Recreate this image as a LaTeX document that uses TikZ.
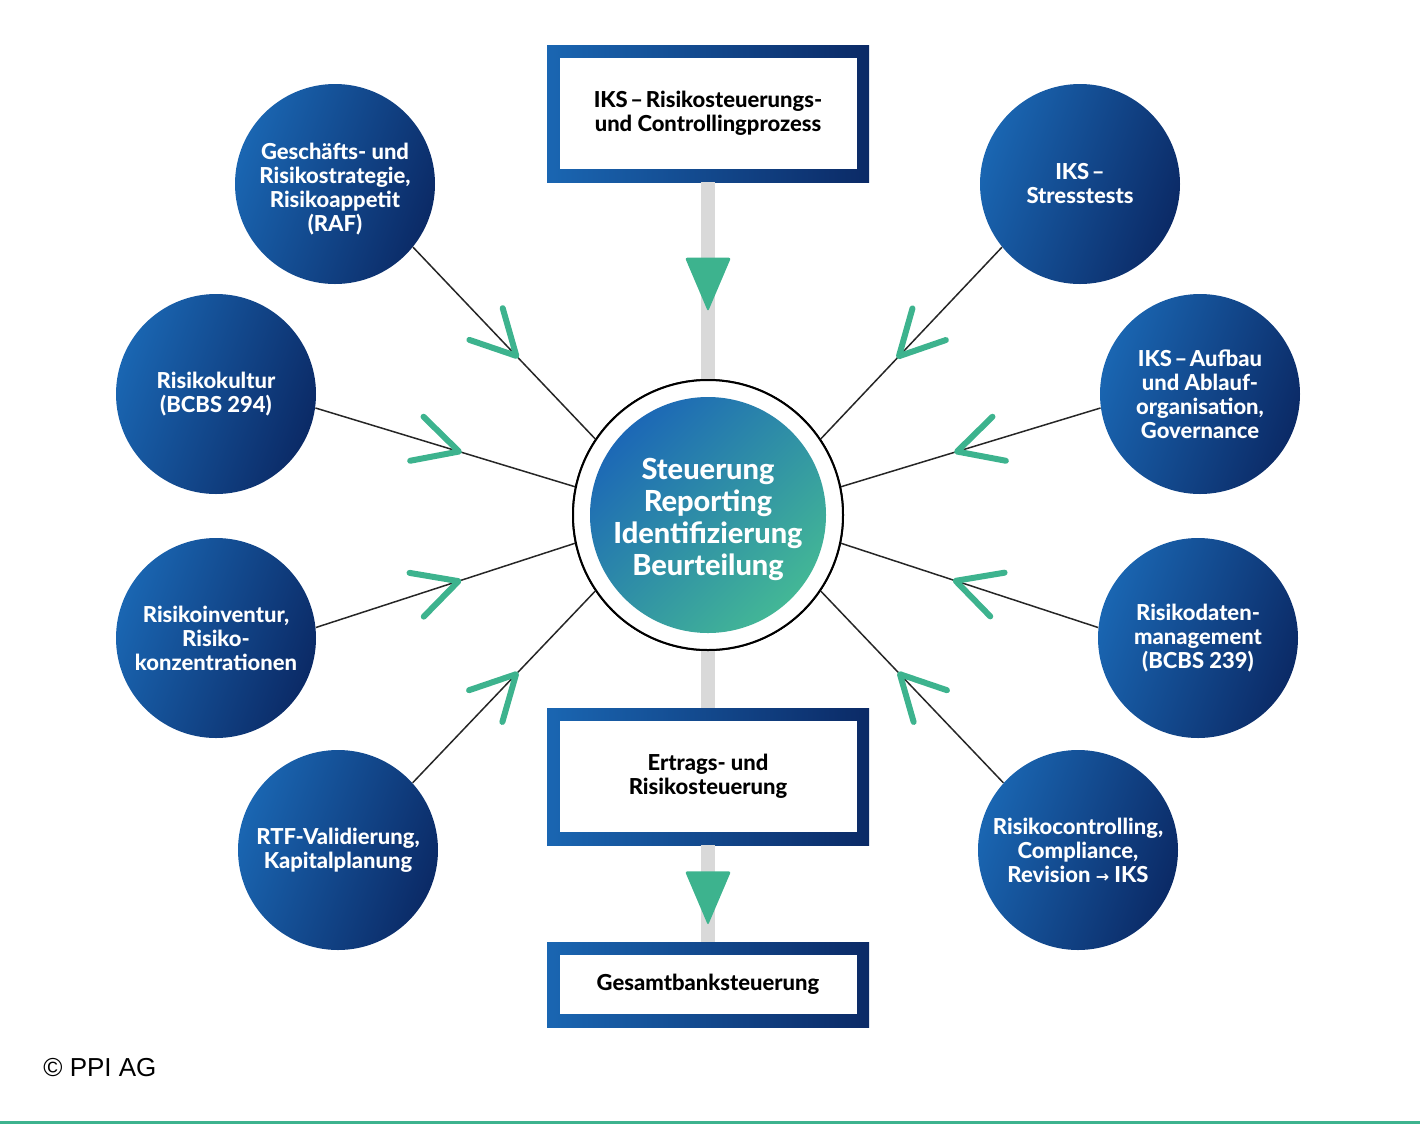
\documentclass[tikz,border=0pt]{standalone}
\usepackage{fontspec}
\setmainfont{Lato}[BoldFont={* Heavy}]
\newfontfamily\copyfont{Liberation Sans}
\newfontfamily\symfont{DejaVu Sans}
\usetikzlibrary{calc,decorations.markings}
\definecolor{cblue}{HTML}{1A66B2}
\definecolor{cnavy}{HTML}{0B2A66}
\definecolor{cgreen}{HTML}{3DB38E}
\definecolor{cgray}{HTML}{D9D9D9}
\definecolor{ctl}{HTML}{1C68B6}
\definecolor{cbr}{HTML}{43B796}
\newcommand{\dsh}{\hspace{0.12em}–\hspace{0.12em}}
\begin{document}
\begin{tikzpicture}[x=0.5pt,y=-0.5pt,
  topic/.style={circle, minimum size=100pt, inner sep=0pt,
    top color=cblue, bottom color=cnavy, shading angle=70,
    text=white, align=center,
    font=\bfseries\fontsize{11}{12}\selectfont},
  outerbox/.style={rectangle, minimum width=161pt, inner sep=0pt,
    left color=cblue, right color=cnavy},
  innerbox/.style={rectangle, fill=white, minimum width=148.5pt, inner sep=0pt,
    align=center, text=black, font=\bfseries\fontsize{11}{11.8}\selectfont},
  graybar/.style={draw=cgray, line width=7pt},
  tri/.style={fill=cgreen, rounded corners=1.2pt},
  chev/.style={draw=cgreen, line width=3pt, line cap=round, line join=round},
  conn/.style={draw=black!85, line width=0.75pt, postaction={decorate},
    decoration={markings, mark=at position 75pt with
      {\draw[chev] (-44,-23) -- (0,0) -- (-44,23);}}}
]
\useasboundingbox (0,0) rectangle (1420,1126);

% boxes
\node[outerbox, minimum height=68.5pt] (b1) at (708,113.5) {};
\node[outerbox, minimum height=68.5pt] (b2) at (708,776.5) {};
\node[outerbox, minimum height=42.5pt] (b3) at (708,984.5) {};

% center ring
\node[circle, draw=black, line width=1pt, fill=white, minimum size=135pt, inner sep=0pt] (ring) at (708,515) {};

% gray bars
\draw[graybar] (b1.south) -- (ring.north) coordinate[pos=0.52] (t1);
\draw[graybar] (ring.south) -- (b2.north);
\draw[graybar] (b2.south) -- (b3.north) coordinate[pos=0.55] (t2);

% redraw ring border on top of bars
\node[circle, draw=black, line width=1pt, fill=white, minimum size=135pt, inner sep=0pt] at (ring) {};
\node[circle, minimum size=118pt, inner sep=0pt, top color=ctl, bottom color=cbr, shading angle=45] (core) at (ring) {};
\node[text=white, align=center, inner sep=0pt, font=\bfseries\fontsize{14.5}{16}\selectfont] (coretext)
  at ($(core)+(0,4)$) {Steuerung\\Reporting\\Identifizierung\\Beurteilung};

% inner white boxes
\node[innerbox, minimum height=55.5pt] (b1t) at (b1) {IKS\dsh Risikosteuerungs-\\und Controllingprozess};
\node[innerbox, minimum height=55.5pt] (b2t) at (b2) {Ertrags- und\\Risikosteuerung};
\node[innerbox, minimum height=29.5pt] (b3t) at (b3) {Gesamtbanksteuerung};

% triangles
\fill[tri] ($(t1)+(-23,-27)$) -- ($(t1)+(23,-27)$) -- ($(t1)+(0,27)$) -- cycle;
\fill[tri] ($(t2)+(-23,-27)$) -- ($(t2)+(23,-27)$) -- ($(t2)+(0,27)$) -- cycle;

% topic circles
\node[topic] (c1) at (335,184) {};
\node[text=white, align=center, inner sep=0pt, font=\bfseries\fontsize{11}{12}\selectfont] (c1t)
  at ($(c1)+(0,5)$) {Geschäfts- und\\Risikostrategie,\\Risikoappetit\\(RAF)};
\node[topic] (c2) at (216,394) {Risikokultur\\(BCBS 294)};
\node[topic] (c3) at (216,638) {Risikoinventur,\\Risiko-\\konzentrationen};
\node[topic] (c4) at (338,850) {RTF-Validierung,\\Kapitalplanung};
\node[topic] (c5) at (1080,184) {IKS\dsh\\Stresstests};
\node[topic] (c6) at (1200,394) {IKS\dsh Aufbau\\und Ablauf-\\organisation,\\Governance};
\node[topic] (c7) at (1198,638) {Risikodaten-\\management\\(BCBS 239)};
\node[topic] (c8) at (1078,850) {Risikocontrolling,\\Compliance,\\Revision {\symfont\fontsize{8}{10}\selectfont →} IKS};

% connectors
\draw[conn] (c1.-39) -- (ring.146);
\draw[conn] (c2.-8)  -- (ring.168);
\draw[conn] (c3.6)   -- (ring.192);
\draw[conn] (c4.42)  -- (ring.214);
\draw[conn] (c5.219) -- (ring.34);
\draw[conn] (c6.188) -- (ring.12);
\draw[conn] (c7.174) -- (ring.-12);
\draw[conn] (c8.138) -- (ring.-34);

% copyright
\node[anchor=west, inner sep=0pt, font=\copyfont\fontsize{13}{15}\selectfont] (copy) at (43,1068) {© PPI AG};

% bottom rule
\draw[cgreen, line width=1.5pt] (0,1122) -- (1420,1122);
\end{tikzpicture}
\end{document}
